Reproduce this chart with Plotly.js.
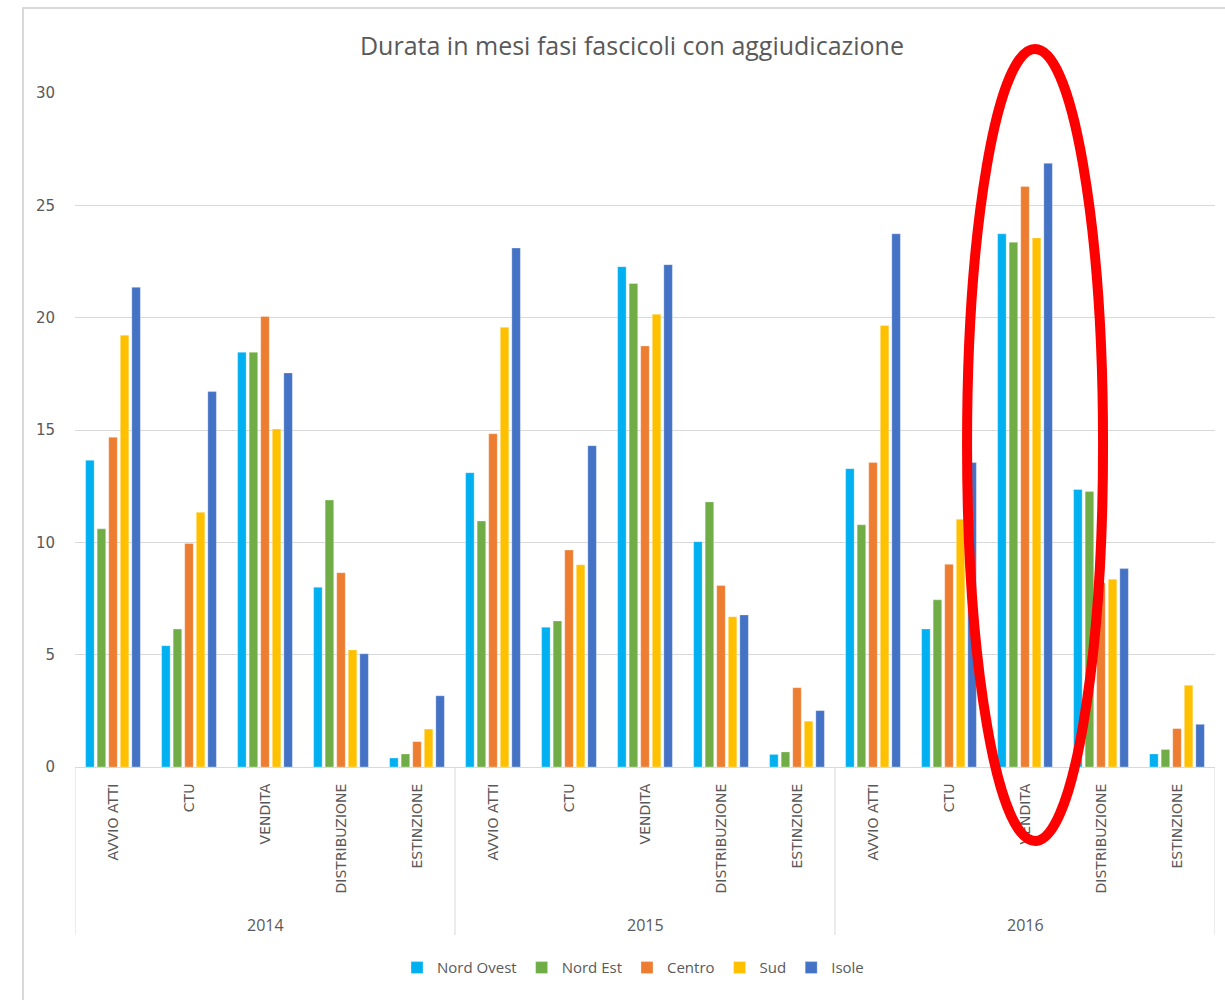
<!DOCTYPE html>
<html>
<head>
<meta charset="utf-8">
<script src="https://cdn.plot.ly/plotly-3.0.1.min.js"></script>
<style>html,body{margin:0;padding:0;background:#fff;}#chart{width:1225px;height:1000px;}</style>
</head>
<body>
<div id="chart"></div>
<script>
var years = ['2014', '2015', '2016'];
var phases = ['AVVIO ATTI', 'CTU', 'VENDITA', 'DISTRIBUZIONE', 'ESTINZIONE'];
var seriesNames = ['Nord Ovest', 'Nord Est', 'Centro', 'Sud', 'Isole'];
var nordOvest = [13.65, 5.4, 18.46, 8.0, 0.4, 13.1, 6.22, 22.27, 10.03, 0.56, 13.28, 6.14, 23.73, 12.35, 0.58];
var nordEst   = [10.6, 6.14, 18.46, 11.88, 0.58, 10.95, 6.5, 21.52, 11.8, 0.67, 10.78, 7.44, 23.36, 12.26, 0.78];
var centro    = [14.68, 9.95, 20.05, 8.65, 1.13, 14.83, 9.66, 18.74, 8.08, 3.53, 13.55, 9.02, 25.84, 8.2, 1.71];
var sud       = [19.22, 11.34, 15.04, 5.21, 1.69, 19.57, 9.0, 20.15, 6.69, 2.04, 19.65, 11.03, 23.55, 8.36, 3.64];
var isole     = [21.35, 16.71, 17.54, 5.04, 3.17, 23.1, 14.3, 22.36, 6.77, 2.51, 23.73, 13.55, 26.87, 8.83, 1.9];
var colors = ['#00B0F0', '#70AD47', '#ED7D31', '#FFC000', '#4472C4'];
var values = [nordOvest, nordEst, centro, sud, isole];

// category keys (year + phase), tick texts show only the phase
var xKeys = [], xText = [];
years.forEach(function (y) { phases.forEach(function (p) { xKeys.push(y + ' ' + p); xText.push(p); }); });

var traces = values.map(function (v, i) {
  return {
    type: 'bar', name: seriesNames[i], x: xKeys, y: v,
    marker: { color: colors[i], line: { color: 'rgba(255,255,255,0.6)', width: 0.5 } },
    hoverinfo: 'none'
  };
});

var gray = '#d9d9d9';
var textGray = '#595959';
var nP = phases.length;

// year group labels and dividers on the category axis
var annotations = years.map(function (y, k) {
  return { text: y, xref: 'x', yref: 'paper', x: k * nP + (nP - 1) / 2, y: -0.2344,
    xanchor: 'center', yanchor: 'middle', showarrow: false,
    font: { family: 'Open Sans, sans-serif', size: 16, color: textGray } };
});
var shapes = [
  { type: 'rect', xref: 'paper', yref: 'paper', x0: -0.0456, x1: 1.02, y0: -0.36, y1: 1.1261,
    line: { color: gray, width: 2 }, fillcolor: 'rgba(0,0,0,0)', layer: 'below' }
];
for (var k = 0; k <= years.length; k++) {
  shapes.push({ type: 'line', xref: 'x', yref: 'paper', x0: k * nP - 0.5, x1: k * nP - 0.5,
    y0: 0, y1: -0.2493, line: { color: gray, width: 1 } });
}
shapes.push({ type: 'circle', xref: 'paper', yref: 'paper', x0: 0.7825, x1: 0.9018, y0: -0.1098, y1: 1.0653,
  line: { color: '#FF0000', width: 10 }, fillcolor: 'rgba(0,0,0,0)', layer: 'above' });

var layout = {
  width: 1225, height: 1000,
  margin: { l: 75, r: 10, t: 93, b: 233 },
  paper_bgcolor: '#fff', plot_bgcolor: '#fff',
  barmode: 'group', bargap: 0.24, bargroupgap: 0.26,
  title: { text: 'Durata in mesi fasi fascicoli con aggiudicazione',
    font: { family: 'Open Sans, sans-serif', size: 25, color: textGray },
    x: 0.4886, xref: 'paper', xanchor: 'center', y: 0.954, yref: 'container', yanchor: 'middle' },
  xaxis: {
    type: 'category', tickangle: -90, range: [-0.5, xKeys.length - 0.5],
    tickmode: 'array', tickvals: xKeys, ticktext: xText,
    showline: true, linecolor: gray, linewidth: 1,
    ticks: '', showgrid: false, ticklabelstandoff: 10,
    tickfont: { family: 'DejaVu Sans, sans-serif', size: 14, color: textGray }
  },
  yaxis: {
    range: [0, 30], dtick: 5, showgrid: true, gridcolor: gray, gridwidth: 1,
    zeroline: false, showline: false,
    ticks: 'outside', ticklen: 16, tickcolor: 'rgba(0,0,0,0)',
    tickfont: { family: 'DejaVu Sans, sans-serif', size: 15, color: textGray }
  },
  legend: {
    orientation: 'h', x: 0.4895, xanchor: 'center', y: -0.298, yanchor: 'middle',
    font: { family: 'Open Sans, sans-serif', size: 15, color: textGray },
    itemwidth: 30, tracegroupgap: 0
  },
  font: { family: 'Open Sans, sans-serif', color: textGray },
  annotations: annotations,
  shapes: shapes,
  showlegend: true
};

Plotly.newPlot('chart', traces, layout, { staticPlot: true, displayModeBar: false });
</script>
</body>
</html>
